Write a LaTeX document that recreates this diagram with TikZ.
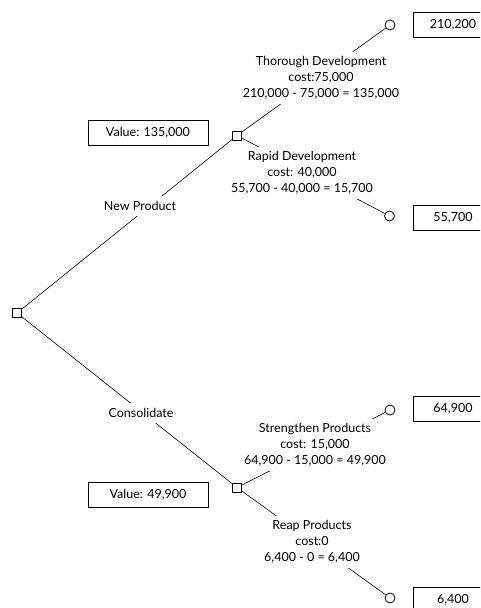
\documentclass[tikz,border=0pt]{standalone}
\usepackage{fontspec}
\setmainfont{Lato}
\begin{document}
\begin{tikzpicture}[x=1pt,y=-1pt,
  decision/.style={draw,line width=0.8pt,rectangle,minimum size=9pt,inner sep=0pt},
  chance/.style={draw,line width=0.8pt,circle,minimum size=10pt,inner sep=0pt},
  valbox/.style={draw,line width=0.8pt,rectangle,minimum height=25pt,inner sep=0pt,font=\fontsize{12.5}{15}\selectfont},
  lbl/.style={fill=white,align=center,inner xsep=2pt,inner ysep=5pt,font=\fontsize{12.5}{16}\selectfont},
  br/.style={line width=0.6pt}]
\useasboundingbox (0,0) rectangle (480,608);
\clip (0,0) rectangle (480,608);
\fill[white] (0,0) rectangle (480,608);
% decision & chance nodes
\node[decision] (root) at (17,313) {};
\node[decision] (d1) at (237,135.5) {};
\node[decision] (d2) at (237,487.5) {};
\node[chance] (c1) at (390,25) {};
\node[chance] (c2) at (389.5,216) {};
\node[chance] (c3) at (390,410) {};
\node[chance] (c4) at (390,598) {};
% branches
\draw[br] (root) -- (d1);
\draw[br] (root) -- (d2);
\draw[br] (d1) -- (c1);
\draw[br] (d1) -- (c2);
\draw[br] (d2) -- (c3);
\draw[br] (d2) -- (c4);
% branch labels
\node[lbl] (lnp) at (140,206) {New Product};
\node[lbl] (lco) at (141,413) {Consolidate};
\node[lbl] (lth) at (321,78) {Thorough Development\\cost:75,000\\210,000 - 75,000 = 135,000};
\node[lbl] (lra) at (302,173) {Rapid Development\\cost: 40,000\\55,700 - 40,000 = 15,700};
\node[lbl] (lst) at (315,445) {Strengthen Products\\cost: 15,000\\64,900 - 15,000 = 49,900};
\node[lbl] (lre) at (312,542) {Reap Products\\cost:0\\6,400 - 0 = 6,400};
% value boxes
\node[valbox,minimum width=120pt] (v1) at (148,133) {Value: 135,000};
\node[valbox,minimum width=120pt] (v2) at (148,494.5) {Value: 49,900};
\node[valbox,minimum width=80pt] (p1) at (453,24.5) {210,200};
\node[valbox,minimum width=80pt] (p2) at (453,218) {55,700};
\node[valbox,minimum width=80pt] (p3) at (453,408.5) {64,900};
\node[valbox,minimum width=80pt] (p4) at (453,599.5) {6,400};
\end{tikzpicture}
\end{document}
